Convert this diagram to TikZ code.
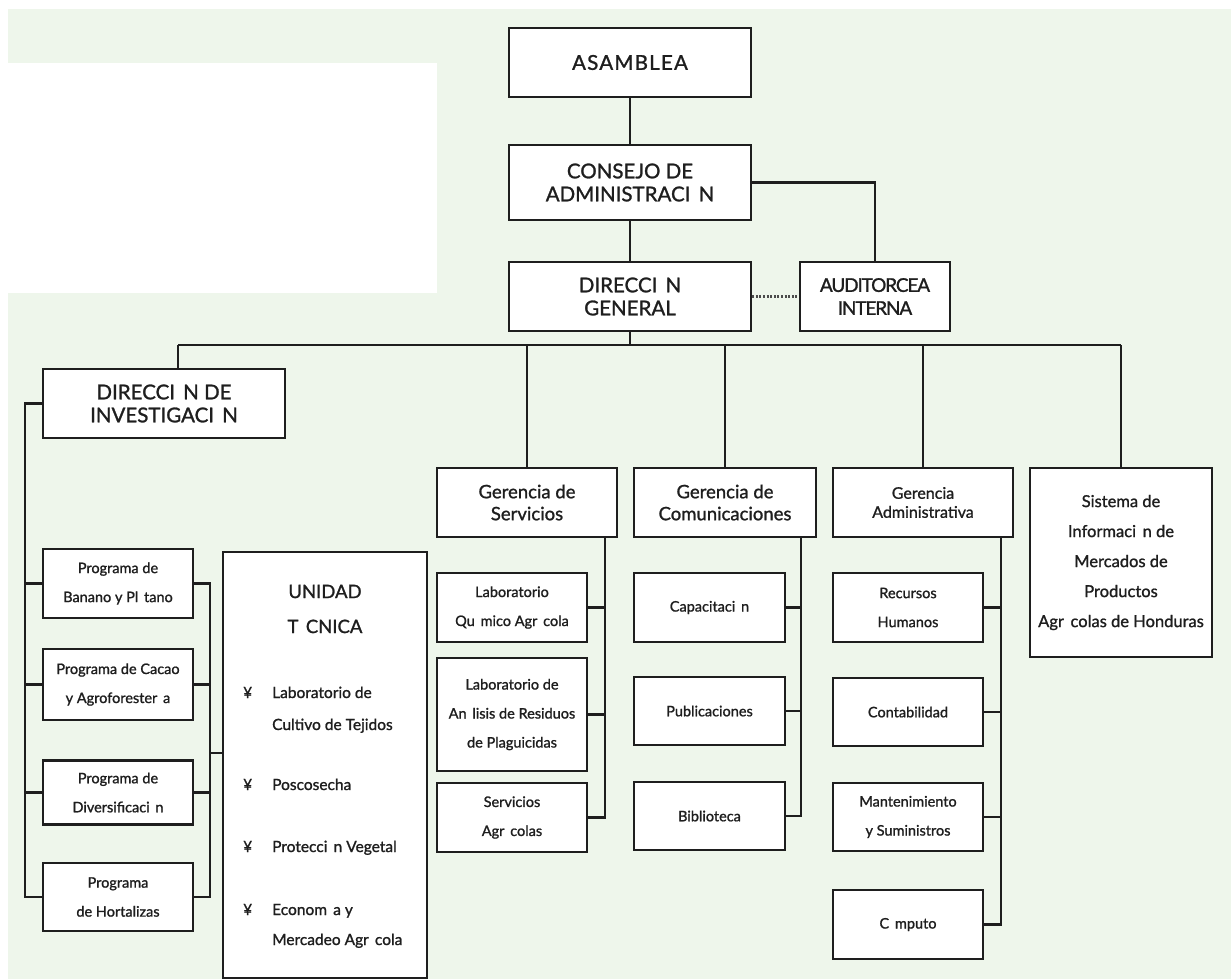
\documentclass[tikz,border=0pt]{standalone}
\usepackage{fontspec}
\setmainfont{Lato}[FakeBold=1.2]
\usetikzlibrary{calc}
\definecolor{pagegreen}{HTML}{EEF6EB}
\definecolor{ink}{HTML}{1E1E1E}
% blank gap left by a glyph the source font could not show
\newcommand{\gp}{\hspace{0.4em}}

\begin{document}
\begin{tikzpicture}[x=1pt,y=-1pt,
  box/.style={draw=ink, line width=2.4pt, fill=white, inner sep=0pt, align=center, text=ink},
  link/.style={draw=ink, line width=2.4pt, line join=miter},
  dotlink/.style={draw=ink!80, line width=3pt, dash pattern=on 2pt off 1.6pt},
  big/.style={font=\fontsize{20.5}{23}\selectfont},
  mid/.style={font=\fontsize{18.5}{22}\selectfont},
  midsmall/.style={font=\fontsize{16}{19}\selectfont},
  small/.style={font=\fontsize{14.5}{29}\selectfont},
  info/.style={font=\fontsize{16.5}{30}\selectfont},
  lbl/.style={inner sep=0pt, text=ink, anchor=base west, font=\fontsize{15.5}{31}\selectfont},
]
% page background
\fill[white] (0,0) rectangle (1231,979);
\fill[pagegreen] (8,9) rectangle (1231,979);
\fill[white] (8,63) rectangle (437,293);
\useasboundingbox (0,0) rectangle (1231,979);

% top levels
\node[box, big, minimum width=242pt, minimum height=69pt] (asam) at (630,62.5) {\addfontfeatures{LetterSpace=6}ASAMBLEA};
\node[box, big, minimum width=242pt, minimum height=75pt] (consejo) at (630,182.5) {CONSEJO DE\\ADMINISTRACI\gp N};
\node[box, big, minimum width=242pt, minimum height=69pt] (dirgen) at (630,296.5) {DIRECCI\gp N\\GENERAL};
\node[box, minimum width=150pt, minimum height=69pt, font={\fontsize{19}{23}\selectfont\addfontfeatures{LetterSpace=-6}}] (audit) at (875,296.5) {AUDITORCEA\\INTERNA};

% second level
\node[box, big, minimum width=242pt, minimum height=69pt] (dirinv) at (164,403.5) {DIRECCI\gp N DE\\INVESTIGACI\gp N};
\node[box, mid, minimum width=180pt, minimum height=69pt] (gserv) at (527,502.5) {Gerencia de\\Servicios};
\node[box, mid, minimum width=182pt, minimum height=69pt] (gcom) at (725,502.5) {Gerencia de\\Comunicaciones};
\node[box, midsmall, minimum width=180pt, minimum height=69pt] (gadm) at (923,502.5) {Gerencia\\Administrativa};
\node[box, info, minimum width=182pt, minimum height=189pt] (sim) at (1121,562.5) {Sistema de\\Informaci\gp n de\\Mercados de\\Productos\\Agr\gp colas de Honduras};

% research programmes
\node[box, small, minimum width=150pt, minimum height=69pt] (prog1) at (118,583.5) {Programa de\\Banano y Pl\gp tano};
\node[box, small, minimum width=150pt, minimum height=71pt] (prog2) at (118,684.5) {Programa de Cacao\\y Agroforester\gp a};
\node[box, small, minimum width=150pt, minimum height=64pt] (prog3) at (118,792.5) {Programa de\\Diversificaci\gp n};
\node[box, small, minimum width=150pt, minimum height=68pt] (prog4) at (118,897) {Programa\\de Hortalizas};

% technical unit
\node[box, minimum width=204pt, minimum height=426pt] (unidad) at (325,765) {};
\node[inner sep=0pt, align=center, text=ink, font=\fontsize{18.5}{35}\selectfont] (utitle) at (325,609) {UNIDAD\\T\gp CNICA};
\node[lbl] (ub1) at (243,698) {¥};
\node[lbl] (ut1) at (272,698) {Laboratorio de};
\node[lbl] (ut1b) at (272,730) {Cultivo de Tejidos};
\node[lbl] (ub2) at (243,790) {¥};
\node[lbl] (ut2) at (272,790) {Poscosecha};
\node[lbl] (ub3) at (243,852) {¥};
\node[lbl] (ut3) at (272,852) {Protecci\gp n Vegetal};
\node[lbl] (ub4) at (243,915) {¥};
\node[lbl] (ut4) at (272,915) {Econom\gp a y};
\node[lbl] (ut4b) at (272,945) {Mercadeo Agr\gp cola};

% services
\node[box, small, minimum width=150pt, minimum height=69pt] (labq) at (512,607.5) {Laboratorio\\Qu\gp mico Agr\gp cola};
\node[box, small, minimum width=150pt, minimum height=113pt] (labres) at (512,714.5) {Laboratorio de\\An\gp lisis de Residuos\\de Plaguicidas};
\node[box, small, minimum width=150pt, minimum height=69pt] (servag) at (512,817.5) {Servicios\\Agr\gp colas};

% communications
\node[box, small, minimum width=151pt, minimum height=69pt] (capac) at (709.5,607.5) {Capacitaci\gp n};
\node[box, small, minimum width=151pt, minimum height=68pt] (publ) at (709.5,711) {Publicaciones};
\node[box, small, minimum width=151pt, minimum height=68pt] (bibl) at (709.5,816) {Biblioteca};

% administration
\node[box, small, minimum width=150pt, minimum height=69pt] (recur) at (908,607.5) {Recursos\\Humanos};
\node[box, small, minimum width=150pt, minimum height=68pt] (conta) at (908,712) {Contabilidad};
\node[box, small, minimum width=150pt, minimum height=68pt] (mant) at (908,817) {Mantenimiento\\y Suministros};
\node[box, small, minimum width=150pt, minimum height=69pt] (comp) at (908,924.5) {C\gp mputo};

% helper coordinates for buses and spines
\coordinate (busL) at (178,345);
\coordinate (spL) at (25,0);
\coordinate (spR) at (210,0);
\coordinate (ujoin) at (210,753);
\coordinate (spS) at (605,0);
\coordinate (spC) at (801,0);
\coordinate (spA) at (1001,0);

% top connectors
\draw[link] (asam) -- (consejo);
\draw[link] (consejo) -- (dirgen);
\draw[link] (consejo.east) -| (audit.north);
\draw[dotlink] (dirgen.east) -- (audit.west);

% main bus
\draw[link] (busL) -- (busL -| sim.north);
\draw[link] (dirgen.south) -- (dirgen.south |- busL);
\draw[link] (busL) -- (busL |- dirinv.north);
\draw[link] (gserv.north) -- (gserv.north |- busL);
\draw[link] (gcom.north) -- (gcom.north |- busL);
\draw[link] (gadm.north) -- (gadm.north |- busL);
\draw[link] (sim.north) -- (sim.north |- busL);

% research spines
\draw[link] (dirinv.west) -- (dirinv.west -| spL) -- (prog4.west -| spL) -- (prog4.west);
\draw[link] (prog1.west -| spL) -- (prog1.west);
\draw[link] (prog2.west -| spL) -- (prog2.west);
\draw[link] (prog3.west -| spL) -- (prog3.west);
\draw[link] (prog1.east) -- (prog1.east -| spR) -- (prog4.east -| spR) -- (prog4.east);
\draw[link] (prog2.east) -- (prog2.east -| spR);
\draw[link] (prog3.east) -- (prog3.east -| spR);
\draw[link] (ujoin) -- (ujoin -| unidad.west);

% services spine
\draw[link] (gserv.south -| spS) -- (servag.east -| spS) -- (servag.east);
\draw[link] (labq.east) -- (labq.east -| spS);
\draw[link] (labres.east) -- (labres.east -| spS);

% communications spine
\draw[link] (gcom.south -| spC) -- (bibl.east -| spC) -- (bibl.east);
\draw[link] (capac.east) -- (capac.east -| spC);
\draw[link] (publ.east) -- (publ.east -| spC);

% administration spine
\draw[link] (gadm.south -| spA) -- (comp.east -| spA) -- (comp.east);
\draw[link] (recur.east) -- (recur.east -| spA);
\draw[link] (conta.east) -- (conta.east -| spA);
\draw[link] (mant.east) -- (mant.east -| spA);
\end{tikzpicture}
\end{document}
